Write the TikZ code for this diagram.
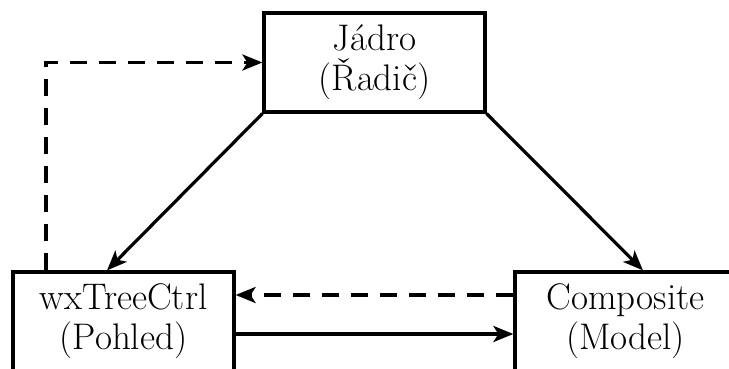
\documentclass[tikz,border=0pt]{standalone}
\usetikzlibrary{arrows.meta,calc}
\begin{document}
\begin{tikzpicture}[x=1pt,y=-1pt,
  box/.style={draw,line width=3.2pt,minimum width=221pt,minimum height=99pt,inner sep=0pt,align=center,font=\fontsize{37}{40}\selectfont},
  conn/.style={line width=3.2pt,-{Stealth[length=20pt,width=16pt,inset=5pt]}},
  dsh/.style={conn,dash pattern=on 17pt off 12pt}]
\useasboundingbox (0,0) rectangle (729,369);
\clip (0,0) rectangle (729,369);
\node[box] (core) at (374.5,62.5) {Jádro\\(Řadič)};
\node[box] (view) at (123.5,321.5) {wxTreeCtrl\\(Pohled)};
\node[box] (model) at (625.5,321.5) {Composite\\(Model)};
\draw[dsh] ($(view.north)+(-77.5,0)$) |- (core.west);
\draw[conn] (core.south west) -- ($(view.north)+(-16.5,0)$);
\draw[conn] (core.south east) -- ($(model.north)+(17.5,0)$);
\draw[dsh] ($(model.west)+(0,-26.5)$) -- ($(view.east)+(0,-26.5)$);
\draw[conn] ($(view.east)+(0,12.5)$) -- ($(model.west)+(0,12.5)$);
\end{tikzpicture}
\end{document}
